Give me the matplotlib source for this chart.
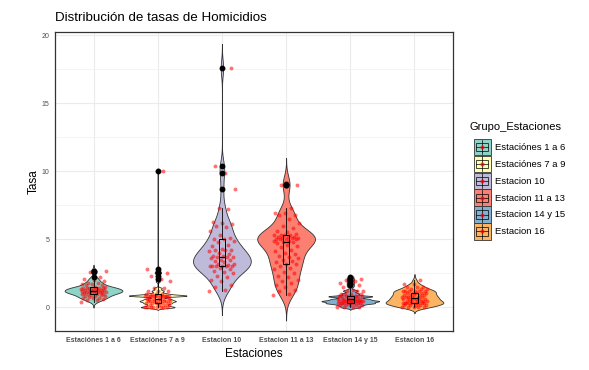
import numpy as np
import matplotlib.pyplot as plt
from matplotlib.patches import Rectangle
from matplotlib.lines import Line2D
from matplotlib.legend_handler import HandlerBase

plt.rcParams['font.family'] = ['Liberation Sans', 'DejaVu Sans']

grupos = ['Estaciónes 1 a 6', 'Estaciónes 7 a 9', 'Estacion 10',
          'Estacion 11 a 13', 'Estacion 14 y 15', 'Estacion 16']
colores = ['#8DD3C7', '#FFFFB3', '#BEBADA', '#FB8072', '#80B1D3', '#FDB462']

# tasas
g1 = [0.4, 0.5, 0.55, 0.6, 0.65, 0.7, 0.7, 0.75, 0.8, 0.8, 0.85, 0.9, 0.9, 0.95,
      1.0, 1.0, 1.0, 1.05, 1.05, 1.1, 1.1, 1.1, 1.15, 1.15, 1.15, 1.2, 1.2, 1.2,
      1.2, 1.25, 1.25, 1.3, 1.3, 1.3, 1.35, 1.35, 1.4, 1.4, 1.4, 1.45, 1.45, 1.45,
      1.5, 1.5, 1.6, 1.6, 1.7, 1.7, 1.8, 1.8, 1.9, 2.0, 2.1, 2.2, 2.6, 2.7]
g2_val = [0.0, 0.15, 0.3, 0.45, 0.6, 0.85, 1.0, 1.2, 1.4, 1.9, 2.1, 2.3, 2.5, 2.6, 2.8, 10.0]
g2_n = [8, 4, 6, 8, 6, 14, 4, 3, 2, 1, 1, 1, 1, 1, 1, 1]
g3 = [1.2, 1.3, 1.5, 1.6, 1.9, 2.0, 2.2, 2.3, 2.5, 2.6, 2.7, 2.8, 2.9,
      3.0, 3.0, 3.0, 3.0, 3.0, 3.0, 3.1, 3.2, 3.2, 3.3, 3.4, 3.5, 3.5, 3.6,
      3.7, 3.7, 3.7, 3.8, 3.8, 3.9, 4.0, 4.1, 4.2, 4.2, 4.2, 4.3, 4.5, 4.6,
      4.8, 4.9, 5.0, 5.0, 5.1, 5.3, 5.6, 5.9, 6.0, 6.1, 6.2, 6.3, 7.2, 7.3,
      8.7, 9.9, 10.4, 17.6]
g4 = [0.9, 1.0, 1.2, 1.3, 1.5, 1.6, 1.8, 1.9, 2.0, 2.2, 2.3, 2.5, 2.6, 2.8, 2.9, 3.0,
      3.15, 3.2, 3.3, 3.4, 3.5, 3.6, 3.7, 3.8, 3.9, 4.0, 4.1, 4.2, 4.4, 4.5, 4.6, 4.7, 4.8,
      4.8, 4.9, 4.9, 5.0, 5.0, 5.0, 5.0, 5.1, 5.1, 5.1, 5.2, 5.2, 5.2, 5.3, 5.3, 5.3, 5.3,
      5.4, 5.5, 5.6, 5.8, 6.0, 6.2, 6.5, 6.8, 6.8, 6.9, 6.9, 7.3, 9.0, 9.0, 9.1]
g5_val = [0.0, 0.15, 0.3, 0.45, 0.6, 0.8, 1.0, 1.2, 1.3, 1.5, 1.6, 1.7, 1.8, 1.9, 2.0, 2.1, 2.2]
g5_n = [4, 5, 10, 12, 8, 10, 4, 3, 1, 1, 1, 1, 1, 1, 1, 1, 1]
g6_val = [0.0, 0.15, 0.3, 0.45, 0.6, 0.75, 0.9, 1.05, 1.2, 1.35, 1.5, 1.7, 2.0]
g6_n = [5, 5, 9, 6, 6, 6, 5, 5, 6, 3, 3, 2, 1]

datos = [np.array(g1), np.repeat(g2_val, g2_n), np.array(g3),
         np.array(g4), np.repeat(g5_val, g5_n), np.repeat(g6_val, g6_n)]
ajuste = [1, 0.35, 1, 1, 0.45, 0.75]


def bw_nrd0(v):
    sd = np.std(v, ddof=1)
    q75, q25 = np.percentile(v, [75, 25])
    lo = min(sd, (q75 - q25) / 1.34)
    if lo == 0:
        lo = sd
    return 0.9 * lo * len(v) ** -0.2


fig = plt.figure(figsize=(5.89, 3.70), dpi=100)
ax = fig.add_axes([55 / 589, 1 - 331 / 370, 398 / 589, 299 / 370])

for i, v in enumerate(datos):
    x = i + 1
    bw = bw_nrd0(v) * ajuste[i]
    ys = np.linspace(v.min() - 3 * bw, v.max() + 3 * bw, 600)
    dens = np.exp(-0.5 * ((ys[:, None] - v[None, :]) / bw) ** 2).sum(1)
    w = dens / dens.max() * 0.45
    ax.fill_betweenx(ys, x - w, x + w, facecolor=colores[i], edgecolor='#333333',
                     lw=0.6, zorder=2)

bp = ax.boxplot(datos, positions=range(1, 7), widths=0.1, patch_artist=True,
                showcaps=False,
                boxprops=dict(facecolor='none', edgecolor='black', lw=0.7),
                whiskerprops=dict(color='black', lw=0.6),
                medianprops=dict(color='black', lw=0.9),
                flierprops=dict(marker='o', markerfacecolor='black',
                                markeredgecolor='black', markersize=3.2))

for i, v in enumerate(datos):
    k = np.arange(len(v))
    dx = ((k * 0.6180339887) % 1 - 0.5) * 0.4
    ax.scatter(i + 1 + dx, v, s=8, color='red', alpha=0.55, lw=0, zorder=3)

for art in bp['boxes'] + bp['whiskers'] + bp['medians'] + bp['fliers']:
    art.set_zorder(4)

ax.set_xlim(0.4, 6.6)
ax.set_ylim(-1.75, 20.25)
ax.set_xticks(range(1, 7))
ax.set_xticklabels(grupos, fontsize=5, fontweight='bold', color='#4D4D4D')
ax.set_yticks([0, 5, 10, 15, 20])
ax.set_yticks([2.5, 7.5, 12.5, 17.5], minor=True)
ax.tick_params(axis='both', which='both', length=0, labelsize=5,
               labelcolor='#4D4D4D', pad=4)
ax.grid(True, which='major', color='#EBEBEB', lw=0.8, zorder=0)
ax.grid(True, which='minor', axis='y', color='#F2F2F2', lw=0.6, zorder=0)
ax.set_axisbelow(True)
for s in ax.spines.values():
    s.set_color('#333333')
    s.set_linewidth(0.9)

ax.set_xlabel('Estaciones', fontsize=8.5, labelpad=3)
ax.set_ylabel('Tasa', fontsize=8.5, labelpad=1)
fig.text(55 / 589, 1 - 18 / 370, 'Distribución de tasas de Homicidios',
         fontsize=9.6, va='center', ha='left')


class BoxKey(HandlerBase):
    def create_artists(self, legend, orig, xd, yd, width, height, fontsize, trans):
        col = orig.get_facecolor()
        fondo = Rectangle((-xd, -yd), width, height, facecolor=col,
                          edgecolor='#333333', lw=0.6, transform=trans)
        cx = -xd + width / 2
        caja = Rectangle((cx - width * 0.35, -yd + height * 0.25), width * 0.7,
                         height * 0.5, facecolor='none', edgecolor='black', lw=0.5,
                         transform=trans)
        linea = Line2D([cx, cx], [-yd + height * 0.05, -yd + height * 0.95],
                       color='black', lw=0.5, transform=trans)
        med = Line2D([cx - width * 0.35, cx + width * 0.35],
                     [-yd + height * 0.5, -yd + height * 0.5],
                     color='black', lw=0.5, transform=trans)
        pto = Line2D([cx], [-yd + height * 0.5], marker='o', markersize=2,
                     color='red', alpha=0.6, lw=0, transform=trans)
        return [fondo, caja, linea, med, pto]


# titulo de la leyenda aparte, para dejar el hueco como en ggplot
fig.text(470 / 589, 1 - 127 / 370, 'Grupo_Estaciones', fontsize=8,
         ha='left', va='center')
handles = [Rectangle((0, 0), 1, 1, facecolor=c) for c in colores]
leg = fig.legend(handles, grupos, loc='upper left',
                 bbox_to_anchor=(469 / 589, 1 - 134 / 370), frameon=False,
                 fontsize=6.8, handler_map={Rectangle: BoxKey()},
                 handlelength=1.8, handleheight=2.3, labelspacing=0.05,
                 handletextpad=0.5, borderpad=0)

fig.savefig('out.png', dpi=100)
